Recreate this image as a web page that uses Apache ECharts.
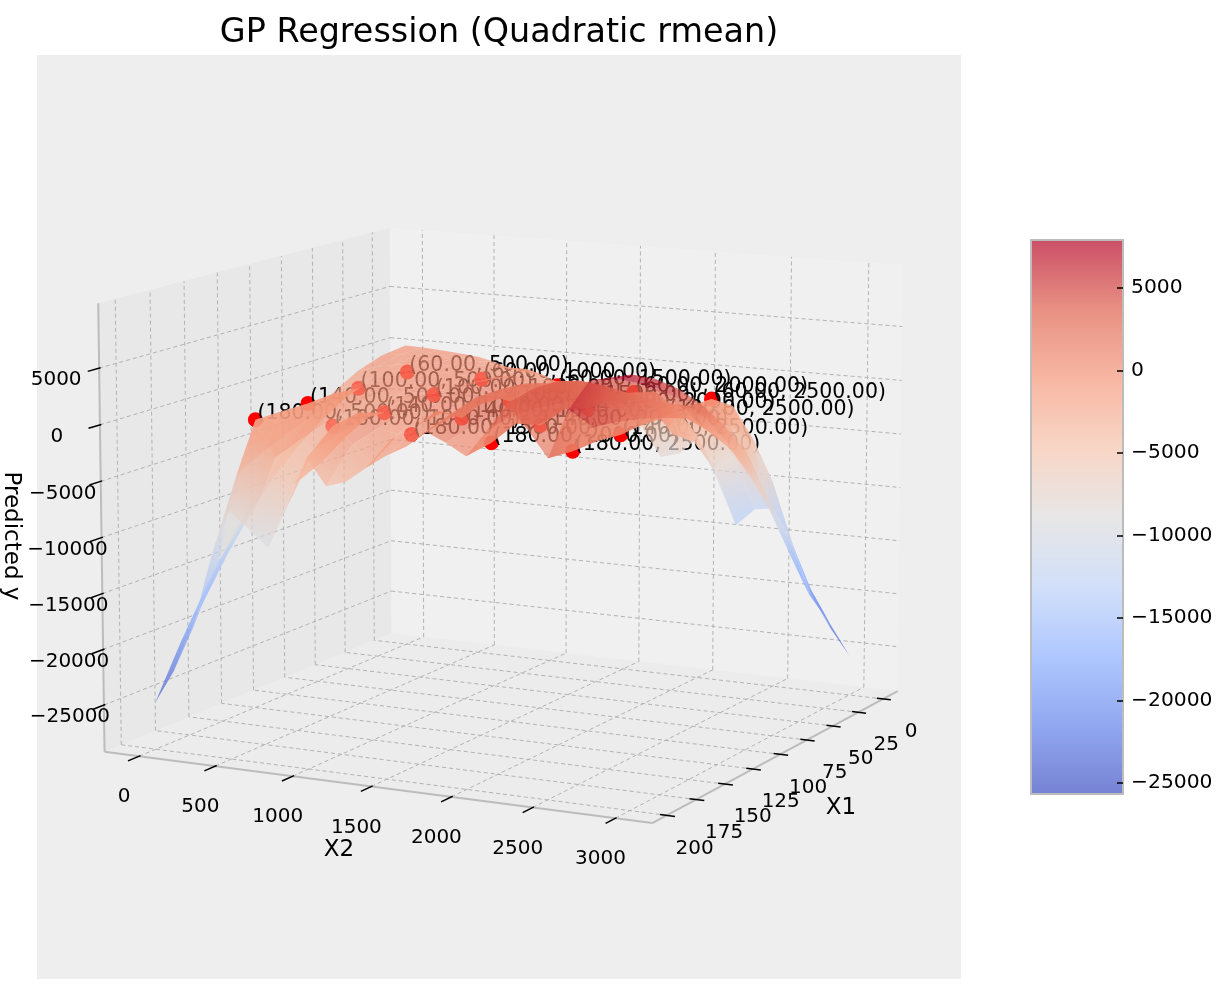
<!DOCTYPE html><html><head><meta charset="utf-8"><style>html,body{margin:0;background:#fff}#c{width:1225px;height:985px}</style>
<script src="https://cdn.jsdelivr.net/npm/echarts@6/dist/echarts.min.js"></script></head><body><div id="c"></div><script>
const x1Values=[0,20,40,60,80,100,120,140,160,180,200];
const x2Values=[0,125,250,375,500,625,750,875,1000,1125,1250,1375,1500,1625,1750,1875,2000,2125,2250,2375,2500,2625,2750,2875,3000];
const zRows=[
[0,-44,-160,-300,-466,-854,-1441,-1692,-1953,-2812,-4020,-4211,-4432,-5890,-8500,-8000,-6300,-10086,-14300,-12600,-12366,-15600,-20140,-23100,-25500],
[-250,-46,65,89,66,-39,-297,-373,-394,-913,-1822,-1658,-1422,-2608,-4508,-3763,-3016,-5124,-8357,-6691,-5176,-8905,-14353,-18500,-21500],
[-1000,-529,-152,83,121,192,269,156,94,-23,-391,-347,-145,-813,-2108,-1423,-597,-2176,-4879,-3073,-1261,-4556,-10500,-14500,-18000],
[-2250,-1481,-754,-95,167,158,405,277,100,350,700,300,100,-100,-700,-200,100,-1000,-3400,-1600,108,-2190,-6074,-9500,-12000],
[-4000,-2912,-1764,-452,200,-2,202,300,600,700,1300,900,1000,700,1300,700,400,300,500,300,200,-1014,-3191,-5400,-7500],
[-6250,-4818,-3175,-984,93,-312,-351,99,100,700,1500,800,100,1100,2100,1100,100,1000,1800,1000,100,-13,-900,-1800,-2550],
[-9000,-7200,-4986,-1691,300,-772,-1254,-215,800,800,1200,900,1500,1400,2760,1500,800,1700,3200,1700,100,813,1693,1108,540],
[-12250,-10056,-7196,-2573,160,-1382,-2507,-679,-52,-82,400,409,100,1500,3000,1600,100,2200,4300,2200,-86,1464,3796,3338,3130],
[-16000,-13387,-9807,-3630,200,-2142,-4110,-1293,700,-550,-900,87,1500,1300,3000,1600,1000,2500,5000,2600,100,1940,5400,5091,5220],
[-20250,-17194,-12818,-4862,185,-3052,-5200,-2057,264,-1168,-2700,-385,175,800,2300,1300,96,2600,5000,2700,29,2241,6503,6371,6810],
[-25000,-21986,-18065,-11592,-7134,-8535,-9999,-6196,-1800,-4074,-3500,-2170,-924,0,1500,700,-300,2000,4500,2500,200,4500,7106,7500,7900]];
const pointX1=[180,180,180,180,180,140,140,140,140,140,100,100,100,100,100,60,60,60,60,60];
const pointX2=[500,1000,1500,2000,2500,500,1000,1500,2000,2500,500,1000,1500,2000,2500,500,1000,1500,2000,2500];
const pointY=[185,264,175,96,29,160,-52,100,100,-86,93,100,100,100,100,167,100,100,100,108];
const x1Ticks=[0,25,50,75,100,125,150,175,200];
const x2Ticks=[0,500,1000,1500,2000,2500,3000];
const zTicks=[-25000,-20000,-15000,-10000,-5000,0,5000];
const cbTicks=[-25000,-20000,-15000,-10000,-5000,0,5000];
const lim={x1:[-15,212],x2:[-230,3220],z:[-29200,10700]},cbRange=[-25670,7900];
const anchors=[[1,0,0,105,752],[1,1,0,652,823],[0,1,0,898,691],[0,0,0,391,633],[1,0,1,98,303],[0,0,1,390,228],[0,1,1,903,265]];
function solve(A,b){const n=b.length;for(let i=0;i<n;i++){let m=i;for(let r=i+1;r<n;r++)if(Math.abs(A[r][i])>Math.abs(A[m][i]))m=r;[A[i],A[m]]=[A[m],A[i]];[b[i],b[m]]=[b[m],b[i]];for(let r=i+1;r<n;r++){const f=A[r][i]/A[i][i];for(let c=i;c<n;c++)A[r][c]-=f*A[i][c];b[r]-=f*b[i];}}const x=Array(n);for(let i=n-1;i>=0;i--){let s=b[i];for(let c=i+1;c<n;c++)s-=A[i][c]*x[c];x[i]=s/A[i][i];}return x;}
const M=[],R=[];anchors.forEach(([u,v,w,px,py])=>{M.push([u,v,w,1,0,0,0,0,-px*u,-px*v,-px*w]);R.push(px);M.push([0,0,0,0,u,v,w,1,-py*u,-py*v,-py*w]);R.push(py);});
const AtA=Array.from({length:11},(_,i)=>Array.from({length:11},(_,j)=>M.reduce((s,r)=>s+r[i]*r[j],0)));
const Atb=Array.from({length:11},(_,i)=>M.reduce((s,r,k)=>s+r[i]*R[k],0));
const P=solve(AtA,Atb);P.push(1);
const nrm=(x1,x2,z)=>[(x1-lim.x1[0])/(lim.x1[1]-lim.x1[0]),(x2-lim.x2[0])/(lim.x2[1]-lim.x2[0]),(z-lim.z[0])/(lim.z[1]-lim.z[0])];
function project(x1,x2,z){const [u,v,w]=nrm(x1,x2,z);const h=P[8]*u+P[9]*v+P[10]*w+P[11];return [(P[0]*u+P[1]*v+P[2]*w+P[3])/h,(P[4]*u+P[5]*v+P[6]*w+P[7])/h,h];}
const farSign=project(lim.x1[0],lim.x2[0],lim.z[0])[2]>project(lim.x1[1],lim.x2[1],lim.z[0])[2]?1:-1;
const stops=[[59,76,192],[98,130,234],[141,176,254],[190,210,246],[221,220,220],[245,196,173],[244,152,122],[222,96,77],[180,4,38]];
function cm(z,a){let t=(z-cbRange[0])/(cbRange[1]-cbRange[0]);t=Math.max(0,Math.min(1,t))*8;const i=Math.min(7,Math.floor(t)),f=t-i;const c=stops[i].map((s,k)=>Math.round(s+(stops[i+1][k]-s)*f));return `rgba(${c[0]},${c[1]},${c[2]},${a})`;}
const X0=lim.x1[0],X1=lim.x1[1],Y0=lim.x2[0],Y1=lim.x2[1],Z0=lim.z[0],Z1=lim.z[1];
const panes=[{c:'#e8e8e8',p:[[X1,Y0,Z0],[X0,Y0,Z0],[X0,Y0,Z1],[X1,Y0,Z1]]},{c:'#f0f0f0',p:[[X0,Y0,Z0],[X0,Y1,Z0],[X0,Y1,Z1],[X0,Y0,Z1]]},{c:'#ececec',p:[[X1,Y0,Z0],[X1,Y1,Z0],[X0,Y1,Z0],[X0,Y0,Z0]]}];
const gridLines=[];
x1Ticks.forEach(t=>{gridLines.push([[t,Y1,Z0],[t,Y0,Z0]],[[t,Y0,Z0],[t,Y0,Z1]]);});
x2Ticks.forEach(t=>{gridLines.push([[X1,t,Z0],[X0,t,Z0]],[[X0,t,Z0],[X0,t,Z1]]);});
zTicks.forEach(t=>{gridLines.push([[X1,Y0,t],[X0,Y0,t]],[[X0,Y0,t],[X0,Y1,t]]);});
const edgeLines=[[[X1,Y0,Z1],[X1,Y0,Z0]],[[X1,Y0,Z0],[X1,Y1,Z0]],[[X1,Y1,Z0],[X0,Y1,Z0]]];
const tickLines=[];
x2Ticks.forEach(t=>tickLines.push([[X1-1,t,Z0],[X1+8,t,Z0]]));
x1Ticks.forEach(t=>tickLines.push([[t,Y1-40,Z0],[t,Y1+50,Z0]]));
zTicks.forEach(t=>tickLines.push([[X1-1,Y0,t],[X1+8,Y0,t]]));
const fmt=v=>String(v).replace('-','\u2212');
const texts=[];
x2Ticks.forEach(t=>{const p=project(X1,t,Z0);texts.push([fmt(t),p[0]-15,p[1]+41,20]);});
x1Ticks.forEach(t=>{const p=project(t,Y1,Z0);texts.push([fmt(t),p[0]+28,p[1]+33,20]);});
zTicks.forEach(t=>{const p=project(X1,Y0,t);texts.push([fmt(t),p[0]+(t>=0?-43:t===-5000?-38:-34),p[1]+12,20]);});
texts.push(['X1',841,808,23],['X2',339,850,23]);
const cells=[];
for(let i=0;i<x1Values.length-1;i++)for(let j=0;j<x2Values.length-1;j++){
 const q=[[i,j],[i,j+1],[i+1,j+1],[i+1,j]].map(([a,b])=>project(x1Values[a],x2Values[b],zRows[a][b]));
 cells.push({i,j,d:(q[0][2]+q[1][2]+q[2][2]+q[3][2])/4*farSign});}
cells.sort((a,b)=>b.d-a.d);
const seq=a=>a.map((_,i)=>[i,0]);
function lineSeries(list,style,z){return {type:'custom',coordinateSystem:'cartesian2d',silent:true,clip:false,z,data:seq(list),renderItem:(p,api)=>{const l=list[p.dataIndex];const a=api.coord(project(...l[0])),b=api.coord(project(...l[1]));return {type:'line',shape:{x1:a[0],y1:a[1],x2:b[0],y2:b[1]},style};}};}
const option={animation:false,
 title:{text:'GP Regression (Quadratic rmean)',left:494,top:12,textAlign:'center',textStyle:{fontFamily:'DejaVu Sans',fontSize:33.4,fontWeight:'normal',color:'#000'}},
 grid:[{left:0,top:0,width:1225,height:985},{left:1031,top:240,width:92,height:554,show:false}],
 xAxis:[{type:'value',min:0,max:1225,show:false,gridIndex:0},{type:'value',min:0,max:1,show:false,gridIndex:1}],
 yAxis:[{type:'value',min:0,max:985,inverse:true,show:false,gridIndex:0},
  {type:'value',gridIndex:1,position:'right',z:9,min:cbRange[0],max:cbRange[1],axisLine:{show:false,onZero:false},splitLine:{show:false},
   axisTick:{show:true,inside:true,length:6,lineStyle:{color:'#000',width:1.5},customValues:cbTicks},
   axisLabel:{show:true,color:'#000',fontFamily:'DejaVu Sans',fontSize:20.3,margin:8,padding:[3,0,0,0],customValues:cbTicks,formatter:v=>fmt(v)}}],
 series:[
 {type:'custom',coordinateSystem:'cartesian2d',silent:true,clip:false,z:1,data:[[0,0]],renderItem:(p,api)=>{const a=api.coord([37,55]),b=api.coord([961,979]);return {type:'rect',shape:{x:a[0],y:a[1],width:b[0]-a[0],height:b[1]-a[1]},style:{fill:'#eeeeee'}};}},
 {type:'custom',coordinateSystem:'cartesian2d',silent:true,clip:false,z:2,data:seq(panes),renderItem:(p,api)=>({type:'polygon',shape:{points:panes[p.dataIndex].p.map(q=>api.coord(project(...q)))},style:{fill:panes[p.dataIndex].c}})},
 lineSeries(gridLines,{stroke:'#b2b2b2',lineWidth:1,lineDash:[4,3]},3),
 lineSeries(edgeLines,{stroke:'#bcbcbc',lineWidth:2},4),
 lineSeries(tickLines,{stroke:'#000',lineWidth:1.5},4),
 {type:'custom',coordinateSystem:'cartesian2d',silent:true,clip:false,z:5,data:pointX1.map((v,i)=>[v,pointX2[i],pointY[i]]),renderItem:(p,api)=>{const i=p.dataIndex;const c=api.coord(project(pointX1[i],pointX2[i],pointY[i]));
   return {type:'group',children:[{type:'circle',shape:{cx:c[0],cy:c[1],r:7.5},style:{fill:'#ff0000'}},{type:'text',style:{x:c[0]+2,y:c[1]-6,text:'('+pointX1[i].toFixed(2)+', '+pointX2[i].toFixed(2)+')',fill:'#000',font:'20.5px "DejaVu Sans"',textAlign:'left',textVerticalAlign:'middle'}}]};}},
 {type:'custom',coordinateSystem:'cartesian2d',silent:true,clip:false,z:6,data:cells.map(c=>[c.i,c.j]),renderItem:(p,api)=>{const {i,j}=cells[p.dataIndex];
   const q=[[i,j],[i,j+1],[i+1,j+1],[i+1,j]];const pts=q.map(([a,b])=>api.coord(project(x1Values[a],x2Values[b],zRows[a][b])));
   const z1=(zRows[i][j]+zRows[i][j+1])/2,z2=(zRows[i+1][j]+zRows[i+1][j+1])/2;
   const A=[(pts[0][0]+pts[1][0])/2,(pts[0][1]+pts[1][1])/2],B=[(pts[2][0]+pts[3][0])/2,(pts[2][1]+pts[3][1])/2];
   return {type:'polygon',shape:{points:pts},style:{fill:{type:'linear',x:A[0],y:A[1],x2:B[0],y2:B[1],global:true,colorStops:[{offset:0,color:cm(z1,.7)},{offset:1,color:cm(z2,.7)}]}}};}},
 {type:'custom',coordinateSystem:'cartesian2d',silent:true,clip:false,z:7,data:seq(texts),renderItem:(p,api)=>{const t=texts[p.dataIndex];const c=api.coord([t[1],t[2]]);return {type:'text',style:{x:c[0],y:c[1],text:t[0],fill:'#000',font:t[3]+'px "DejaVu Sans"',textAlign:'center',textVerticalAlign:'middle'}};}},
 {type:'custom',coordinateSystem:'cartesian2d',silent:true,clip:false,z:7,data:[[0,0]],renderItem:(p,api)=>{const c=api.coord([11,536]);return {type:'text',x:c[0],y:c[1],rotation:-Math.PI/2,style:{x:0,y:0,text:'Predicted y',fill:'#000',font:'23px "DejaVu Sans"',textAlign:'center',textVerticalAlign:'middle'}};}},
 {type:'custom',coordinateSystem:'cartesian2d',xAxisIndex:1,yAxisIndex:1,silent:true,clip:false,z:3,data:[[0,cbRange[0]]],renderItem:(p,api)=>{const a=api.coord([0,cbRange[1]]),b=api.coord([1,cbRange[0]]);const cs=[];for(let k=0;k<=16;k++){cs.push({offset:k/16,color:cm(cbRange[1]-(cbRange[1]-cbRange[0])*k/16,.7)});}return {type:'rect',shape:{x:a[0],y:a[1],width:b[0]-a[0],height:b[1]-a[1]},style:{fill:{type:'linear',x:0,y:0,x2:0,y2:1,colorStops:cs},stroke:'#bcbcbc',lineWidth:2}};}}
 ]};
echarts.init(document.getElementById('c'),null,{renderer:'canvas'}).setOption(option);
</script></body></html>
